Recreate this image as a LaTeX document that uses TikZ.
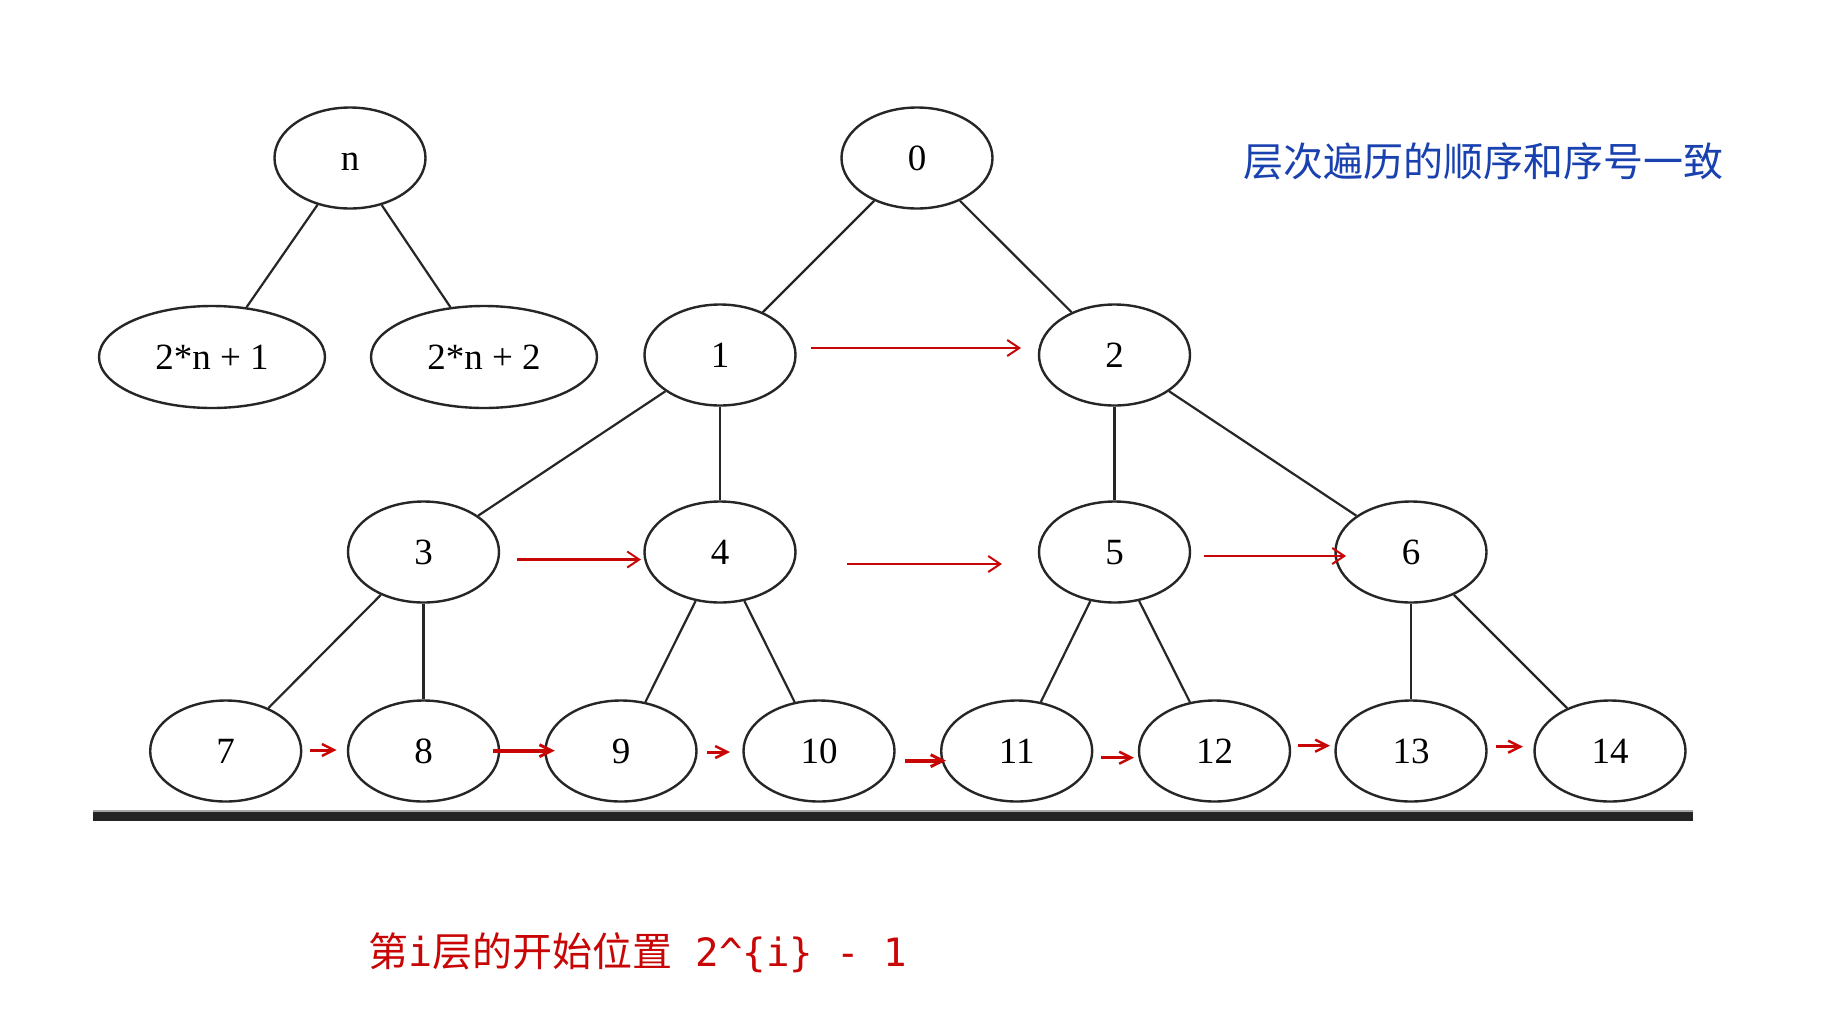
\documentclass[tikz,border=0pt]{standalone}
\usepackage{fontspec}
\setmainfont{Liberation Serif}
\newfontfamily\cjk{Noto Sans CJK SC}
\newfontfamily\monof{DejaVu Sans Mono}
\usetikzlibrary{shapes.geometric,arrows.meta}
\definecolor{edgegray}{HTML}{262626}
\definecolor{arrred}{RGB}{200,6,6}
\definecolor{noteblue}{RGB}{25,65,175}
\definecolor{bargray}{HTML}{242424}
\begin{document}
\begin{tikzpicture}[x=1pt,y=-1pt,
  tnode/.style={ellipse,draw=edgegray,line width=2.4pt,minimum width=151pt,minimum height=101pt,inner sep=0pt,text height=25pt,text depth=0pt,font=\fontsize{37}{40}\selectfont},
  wnode/.style={tnode,minimum width=226pt,minimum height=102pt},
  tedge/.style={draw=edgegray,line width=2.2pt},
  rarrow/.style={draw=arrred,line width=2.5pt,-{Straight Barb[length=12pt,width=16pt,line width=2pt]}},
  sarrow/.style={draw=arrred,line width=3pt,-{Straight Barb[length=12pt,width=12pt,line width=2.5pt]}},
  barrow/.style={draw=arrred,line width=4pt,-{Straight Barb[length=12pt,width=12pt,line width=3pt]}}
]
\fill[white] (0,0) rectangle (1824,1026);
\useasboundingbox (0,0) rectangle (1824,1026);
% legend tree
\node[tnode] (n) at (350,158) {n};
\node[wnode] (c1) at (212,357) {2*n + 1};
\node[wnode] (c2) at (484,357) {2*n + 2};
% main tree
\node[tnode] (t0) at (917,158) {0};
\node[tnode] (t1) at (720,355) {1};
\node[tnode] (t2) at (1114.5,355) {2};
\node[tnode] (t3) at (423.5,552) {3};
\node[tnode] (t4) at (720,552) {4};
\node[tnode] (t5) at (1114.5,552) {5};
\node[tnode] (t6) at (1411,552) {6};
\node[tnode] (t7) at (225.7,751) {7};
\node[tnode] (t8) at (423.5,751) {8};
\node[tnode] (t9) at (621,751) {9};
\node[tnode] (t10) at (819,751) {10};
\node[tnode] (t11) at (1016.7,751) {11};
\node[tnode] (t12) at (1214.5,751) {12};
\node[tnode] (t13) at (1411,751) {13};
\node[tnode] (t14) at (1610,751) {14};
% edges
\draw[tedge] (n) -- (c1);
\draw[tedge] (n) -- (c2);
\draw[tedge] (t0) -- (t1);
\draw[tedge] (t0) -- (t2);
\draw[tedge] (t1) -- (t3);
\draw[tedge] (t1) -- (t4);
\draw[tedge] (t2) -- (t5);
\draw[tedge] (t2) -- (t6);
\draw[tedge] (t3) -- (t7);
\draw[tedge] (t3) -- (t8);
\draw[tedge] (t4) -- (t9);
\draw[tedge] (t4) -- (t10);
\draw[tedge] (t5) -- (t11);
\draw[tedge] (t5) -- (t12);
\draw[tedge] (t6) -- (t13);
\draw[tedge] (t6) -- (t14);
% arrow end points
\coordinate (a12s) at (811,348);   \coordinate (a12e) at (1021,348);
\coordinate (a34s) at (516.5,559.5); \coordinate (a34e) at (641,559.5);
\coordinate (a45s) at (847,564);   \coordinate (a45e) at (1002,564);
\coordinate (a56s) at (1204,556);  \coordinate (a56e) at (1346,556);
\coordinate (a78s) at (309.7,750); \coordinate (a78e) at (336.7,750);
\coordinate (a89s) at (492.8,750.7); \coordinate (a89e) at (554.8,750.7);
\coordinate (a910s) at (707,752);  \coordinate (a910e) at (730,752);
\coordinate (a1011s) at (905,760.7); \coordinate (a1011e) at (946,760.7);
\coordinate (a1112s) at (1101,757.7); \coordinate (a1112e) at (1134,757.7);
\coordinate (a1213s) at (1297.5,745.7); \coordinate (a1213e) at (1330,745.7);
\coordinate (a1314s) at (1496,746.7); \coordinate (a1314e) at (1523,746.7);
% red arrows
\draw[rarrow] (a12s) -- (a12e);
\draw[rarrow] (a34s) -- (a34e);
\draw[rarrow] (a45s) -- (a45e);
\draw[rarrow] (a56s) -- (a56e);
\draw[sarrow] (a78s) -- (a78e);
\draw[barrow] (a89s) -- (a89e);
\draw[sarrow] (a910s) -- (a910e);
\draw[barrow] (a1011s) -- (a1011e);
\draw[sarrow] (a1112s) -- (a1112e);
\draw[sarrow] (a1213s) -- (a1213e);
\draw[sarrow] (a1314s) -- (a1314e);
% base bar
\fill[bargray] (93,811) rectangle (1693,821);
\fill[gray!70] (93,810) rectangle (1693,812);
% notes
\node[anchor=west,inner sep=0pt,text=noteblue,font=\cjk\fontsize{40}{44}\selectfont] (note1) at (1243,161) {层次遍历的顺序和序号一致};
\node[anchor=west,inner sep=0pt,text=arrred,font=\fontsize{40}{44}\selectfont] (note2) at (368,953) {{\cjk 第}{\monof i}{\cjk 层的开始位置}{\monof\fontsize{39}{44}\selectfont\ 2\textasciicircum\{i\}\ -\ 1}};
\end{tikzpicture}
\end{document}
